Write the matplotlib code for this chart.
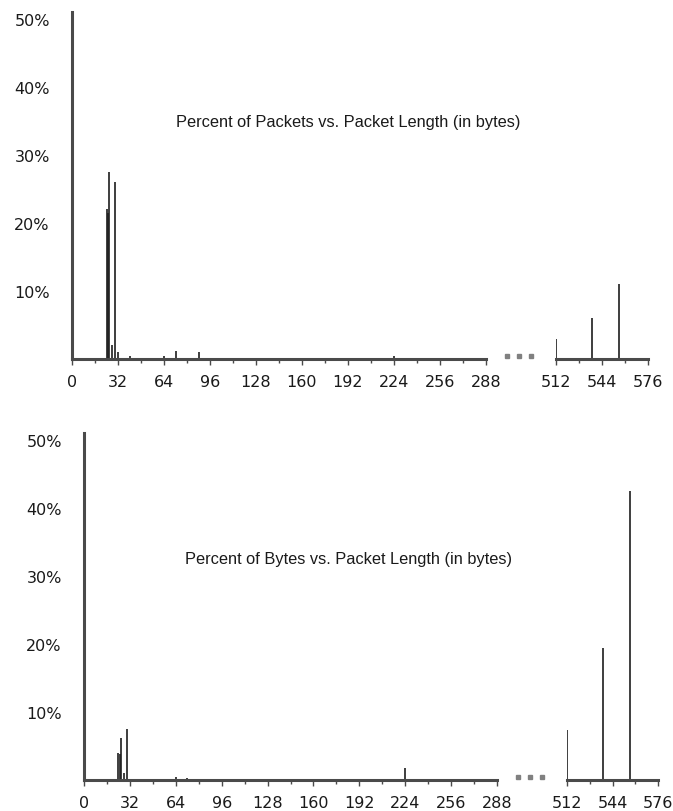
import matplotlib
matplotlib.use("Agg")
from matplotlib import pyplot as plt
from matplotlib.lines import Line2D

# packet lengths (bytes) and percentages, short packets / long packets
pkt_len_short = [24, 25, 26, 28, 30, 32, 40, 64, 72, 88, 224]
pkt_pct_short = [22.0, 21.5, 27.5, 2.0, 26.0, 1.0, 0.4, 0.5, 1.2, 1.1, 0.4]
pkt_len_long = [512, 537, 556]
pkt_pct_long = [3.0, 6.0, 11.0]

byte_len_short = [24, 25, 26, 28, 30, 64, 72, 224]
byte_pct_short = [4.0, 3.8, 6.2, 1.0, 7.5, 0.4, 0.3, 1.8]
byte_len_long = [512, 537, 556]
byte_pct_long = [7.4, 19.4, 42.5]

x_ticks_short = [0, 32, 64, 96, 128, 160, 192, 224, 256, 288]
x_ticks_long = [512, 544, 576]
y_ticks = [10, 20, 30, 40, 50]
y_labels = ["10%", "20%", "30%", "40%", "50%"]

W, H = 673, 812
AXIS = "#4a4a4a"
SPIKE = "#1e1e1e"
TICKFONT = {"family": "DejaVu Sans", "size": 11.5, "color": "#1a1a1a"}

fig = plt.figure(figsize=(W / 100, H / 100), dpi=100)


def px_axes(x0, x1, base):
    # axes placed by pixel position: x0..x1 wide, baseline at `base`, 51% tall
    return fig.add_axes([x0 / W, (H - base) / H, (x1 - x0) / W, 347 / H])


def style(ax, xlim, ticks, with_y):
    ax.set_xlim(*xlim)
    ax.set_ylim(0, 51)
    for s in ["top", "right"]:
        ax.spines[s].set_visible(False)
    ax.spines["bottom"].set_color(AXIS)
    ax.spines["bottom"].set_linewidth(2.2)
    ax.spines["left"].set_color(AXIS)
    ax.spines["left"].set_linewidth(2.2)
    ax.spines["left"].set_visible(with_y)
    ax.set_xticks(ticks)
    ax.set_xticklabels([str(t) for t in ticks], fontdict=TICKFONT)
    ax.set_xticks(range(xlim[0], xlim[1] + 1, 16), minor=True)
    ax.tick_params(axis="x", which="major", length=4, width=1, color=AXIS, pad=7)
    ax.tick_params(axis="x", which="minor", length=3, width=1, color=AXIS)
    if with_y:
        ax.set_yticks(y_ticks)
        ax.set_yticklabels(y_labels, fontdict=TICKFONT)
        ax.tick_params(axis="y", length=0, pad=16)
    else:
        ax.set_yticks([])
    ax.patch.set_alpha(0)


def dots(y, xs):
    fig.add_artist(Line2D([x / W for x in xs], [(H - y) / H] * 3,
                          ls="none", marker="s", ms=3.5, color="#808080",
                          transform=fig.transFigure))


def panel(x0, x288, x512, x576, base, ls, ps, ll, pl, title, title_y, dot_xs):
    ax1 = px_axes(x0, x288, base)
    ax1.vlines(ls, 0, ps, color=SPIKE, lw=1.2)
    style(ax1, (0, 288), x_ticks_short, True)

    ax2 = px_axes(x512, x576, base)
    ax2.vlines(ll, 0, pl, color=SPIKE, lw=1.2)
    style(ax2, (512, 576), x_ticks_long, False)

    fig.text(348 / W, (H - title_y) / H, title, ha="center", va="center",
             family="Liberation Sans", fontsize=11.8, color="#1a1a1a")
    dots(base - 3, dot_xs)


panel(72, 486, 556, 648, 360, pkt_len_short, pkt_pct_short,
      pkt_len_long, pkt_pct_long,
      "Percent of Packets vs. Packet Length (in bytes)", 123, [507, 519, 531])
panel(84, 497, 567, 658, 781, byte_len_short, byte_pct_short,
      byte_len_long, byte_pct_long,
      "Percent of Bytes vs. Packet Length (in bytes)", 560, [518, 530, 542])

fig.savefig("out.png", dpi=100)
